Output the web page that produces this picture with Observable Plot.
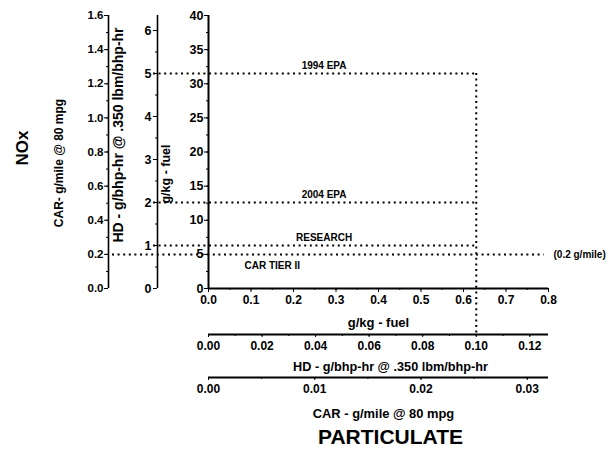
<!DOCTYPE html>
<html>
<head>
<meta charset="utf-8">
<script src="https://cdn.jsdelivr.net/npm/d3@7"></script>
<script src="https://cdn.jsdelivr.net/npm/@observablehq/plot@0.6"></script>
<style>
  html, body { margin: 0; padding: 0; background: #fff; }
</style>
</head>
<body>
<div id="chart"></div>
<script>
// Conversion factors (g/kg-fuel per unit of the other scales)
const HD_PER = 6.3;   // g/kg-fuel per g/bhp-hr @ .350 lbm/bhp-hr
const CAR_PER = 25;   // g/kg-fuel per g/mile @ 80 mpg

// NOx (vertical) tick labels
const gkgNoxTicks = [0, 5, 10, 15, 20, 25, 30, 35, 40];
const hdNoxTicks = [0, 1, 2, 3, 4, 5, 6];
const carNoxTicks = [0, 0.2, 0.4, 0.6, 0.8, 1.0, 1.2, 1.4, 1.6];

// Particulate (horizontal) tick labels
const gkgPmTicks = [0, 0.1, 0.2, 0.3, 0.4, 0.5, 0.6, 0.7, 0.8];
const hdPmTicks = [0, 0.02, 0.04, 0.06, 0.08, 0.10, 0.12];
const carPmTicks = [0, 0.01, 0.02, 0.03];

// Standards
const standardNames = ["1994 EPA", "2004 EPA", "RESEARCH"];
const standardHdNox = [5, 2, 1];        // g/bhp-hr
const carTierName = "CAR TIER II";
const carTierNox = 0.2;                  // g/mile
const carTierNote = "(0.2 g/mile)";
const hdPmStandard = 0.10;               // g/bhp-hr

const standards = standardNames.map((name, i) => ({name, gkg: standardHdNox[i] * HD_PER}));
const pmLimit = hdPmStandard * HD_PER;
const carTierGkg = carTierNox * CAR_PER;

// Layout offsets (pixels)
const HD_AXIS_DX = -51, CAR_AXIS_DX = -100;
const HD_AXIS_DY = 46, CAR_AXIS_DY = 89;

const font = "Liberation Sans, Arial, Helvetica, sans-serif";
const dotted = {stroke: "#000", strokeWidth: 2, strokeDasharray: "2 3.6"};

const minor = (ticks, step) => d3.range(ticks[0], ticks[ticks.length - 1] + 1e-9, step);
const title = (s, o) => Plot.text([s], {text: d => d, textAnchor: "middle", lineAnchor: "middle", ...o});

const chart = Plot.plot({
  width: 611,
  height: 453,
  marginLeft: 208,
  marginRight: 63,
  marginTop: 15,
  marginBottom: 165,
  x: {domain: [0, 0.8]},
  y: {domain: [0, 40]},
  style: {fontFamily: font, fontWeight: "bold", fontSize: "11px", background: "#fff", overflow: "visible"},
  marks: [
    // ---- main g/kg NOx axis
    Plot.ruleX([0], {y1: 0, y2: 40, strokeWidth: 2}),
    Plot.axisY(gkgNoxTicks, {tickSize: 4, tickPadding: 1, fontSize: 12.5, label: null, tickFormat: d => String(d)}),
    Plot.axisY(minor(gkgNoxTicks, 2.5), {tickSize: 2, text: null, label: null}),
    // ---- HD NOx axis
    Plot.ruleX([0], {y1: 0, y2: 40, dx: HD_AXIS_DX, strokeWidth: 1.6}),
    Plot.axisY(hdNoxTicks.map(v => v * HD_PER), {dx: HD_AXIS_DX, tickSize: 4, tickPadding: 2, fontSize: 12.5, label: null,
      tickFormat: d => String(Math.round(d / HD_PER))}),
    Plot.axisY(minor(hdNoxTicks, 0.5).map(v => v * HD_PER), {dx: HD_AXIS_DX, tickSize: 2, text: null, label: null}),
    // ---- CAR NOx axis
    Plot.ruleX([0], {y1: 0, y2: 40, dx: CAR_AXIS_DX, strokeWidth: 1.6}),
    Plot.axisY(carNoxTicks.map(v => v * CAR_PER), {dx: CAR_AXIS_DX, tickSize: 4, tickPadding: 1, fontSize: 11.5, label: null,
      tickFormat: d => (d / CAR_PER).toFixed(1)}),
    Plot.axisY(minor(carNoxTicks, 0.1).map(v => v * CAR_PER), {dx: CAR_AXIS_DX, tickSize: 2, text: null, label: null}),

    // ---- main g/kg particulate axis
    Plot.ruleY([0], {x1: 0, x2: 0.8, strokeWidth: 2}),
    Plot.axisX(gkgPmTicks, {tickSize: 4, tickPadding: 3, fontSize: 12, label: null, tickFormat: d => d.toFixed(1)}),
    Plot.axisX(minor(gkgPmTicks, 0.05), {tickSize: 2, text: null, label: null}),
    // ---- HD particulate axis
    Plot.ruleY([0], {x1: 0, x2: 0.8, dy: HD_AXIS_DY, strokeWidth: 1.8}),
    Plot.axisX(hdPmTicks.map(v => v * HD_PER), {dy: HD_AXIS_DY, tickSize: 3, tickPadding: 4, fontSize: 12, label: null,
      tickFormat: d => (d / HD_PER).toFixed(2)}),
    Plot.axisX(minor(hdPmTicks, 0.01).map(v => v * HD_PER), {dy: HD_AXIS_DY, tickSize: 2, text: null, label: null}),
    // ---- CAR particulate axis
    Plot.ruleY([0], {x1: 0, x2: 0.8, dy: CAR_AXIS_DY, strokeWidth: 1.8}),
    Plot.axisX(carPmTicks.map(v => v * CAR_PER), {dy: CAR_AXIS_DY, tickSize: 3, tickPadding: 4, fontSize: 12, label: null,
      tickFormat: d => (d / CAR_PER).toFixed(2)}),
    Plot.axisX(minor(carPmTicks, 0.005).map(v => v * CAR_PER), {dy: CAR_AXIS_DY, tickSize: 2, text: null, label: null}),

    // ---- standards (dotted)
    Plot.ruleY(standards, {y: "gkg", x1: 0, x2: pmLimit, insetLeft: HD_AXIS_DX - 4, ...dotted}),
    Plot.ruleY([carTierGkg], {x1: 0, x2: 0.79, insetLeft: CAR_AXIS_DX + 4, ...dotted}),
    Plot.ruleX([pmLimit], {y1: standards[0].gkg, y2: 0, insetBottom: -HD_AXIS_DY, ...dotted}),
    Plot.text(standards, {x: 0.272, y: "gkg", text: "name", dy: -8, fontSize: 10}),
    Plot.text([carTierName], {x: 0.15, y: carTierGkg, text: d => d, dy: 11, fontSize: 10}),
    Plot.text([carTierNote], {x: 0.8, y: carTierGkg, text: d => d, dx: 5, textAnchor: "start", fontSize: 10}),

    // ---- axis titles (left)
    title("NOx", {frameAnchor: "left", rotate: -90, dx: -186, dy: -4, fontSize: 17}),
    title("CAR- g/mile @ 80 mpg", {frameAnchor: "left", rotate: -90, dx: -149, dy: 11, fontSize: 12}),
    title("HD - g/bhp-hr @ .350 lbm/bhp-hr", {frameAnchor: "left", rotate: -90, dx: -90, dy: -17, fontSize: 14}),
    title("g/kg - fuel", {frameAnchor: "left", rotate: -90, dx: -43, dy: 22, fontSize: 12.5}),

    // ---- axis titles (bottom)
    title("g/kg - fuel", {frameAnchor: "bottom", dy: 34, fontSize: 13}),
    title("HD - g/bhp-hr @ .350 lbm/bhp-hr", {frameAnchor: "bottom", dx: 12, dy: 78, fontSize: 12.7}),
    title("CAR - g/mile @ 80 mpg", {frameAnchor: "bottom", dx: 5, dy: 125, fontSize: 12.9}),
    title("PARTICULATE", {frameAnchor: "bottom", dx: 12, dy: 149, fontSize: 21})
  ]
});
document.getElementById("chart").append(chart);
</script>
</body>
</html>
